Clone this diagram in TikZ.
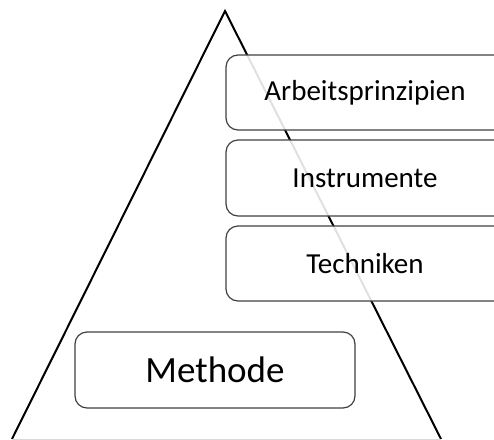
\documentclass[tikz,border=0pt]{standalone}
\usepackage{fontspec}
\setmainfont{Carlito}
\begin{document}
\begin{tikzpicture}[x=1pt,y=-1pt,
  level/.style={draw=black!75, line width=1.2pt, rounded corners=12pt,
    fill=white, fill opacity=0.88, text opacity=1},
  lbl/.style={font=\fontsize{29}{34}\selectfont, text=black}]
  \clip (0,0) rectangle (494,439);
  \useasboundingbox (0,0) rectangle (494,439);
  % pyramid
  \coordinate (apex) at (225,11);
  \coordinate (bl) at (12,439);
  \coordinate (br) at (441,439);
  \draw[line width=2pt, line join=miter] (bl) -- (apex) -- (br);
  \draw[black!15, line width=1pt] (bl) -- (br);
  % stacked levels on the right
  \path[level] (226,55) rectangle (520,130);
  \path[level] (226,140) rectangle (520,216);
  \path[level] (226,226) rectangle (520,301);
  \node[lbl] (arb) at (365,93) {Arbeitsprinzipien};
  \node[lbl] (ins) at (365,178) {Instrumente};
  \node[lbl] (tec) at (365,264) {Techniken};
  % base level
  \path[level] (75,332) rectangle (355,408);
  \node[font=\fontsize{37}{42}\selectfont] (met) at (215,370) {Methode};
\end{tikzpicture}
\end{document}
